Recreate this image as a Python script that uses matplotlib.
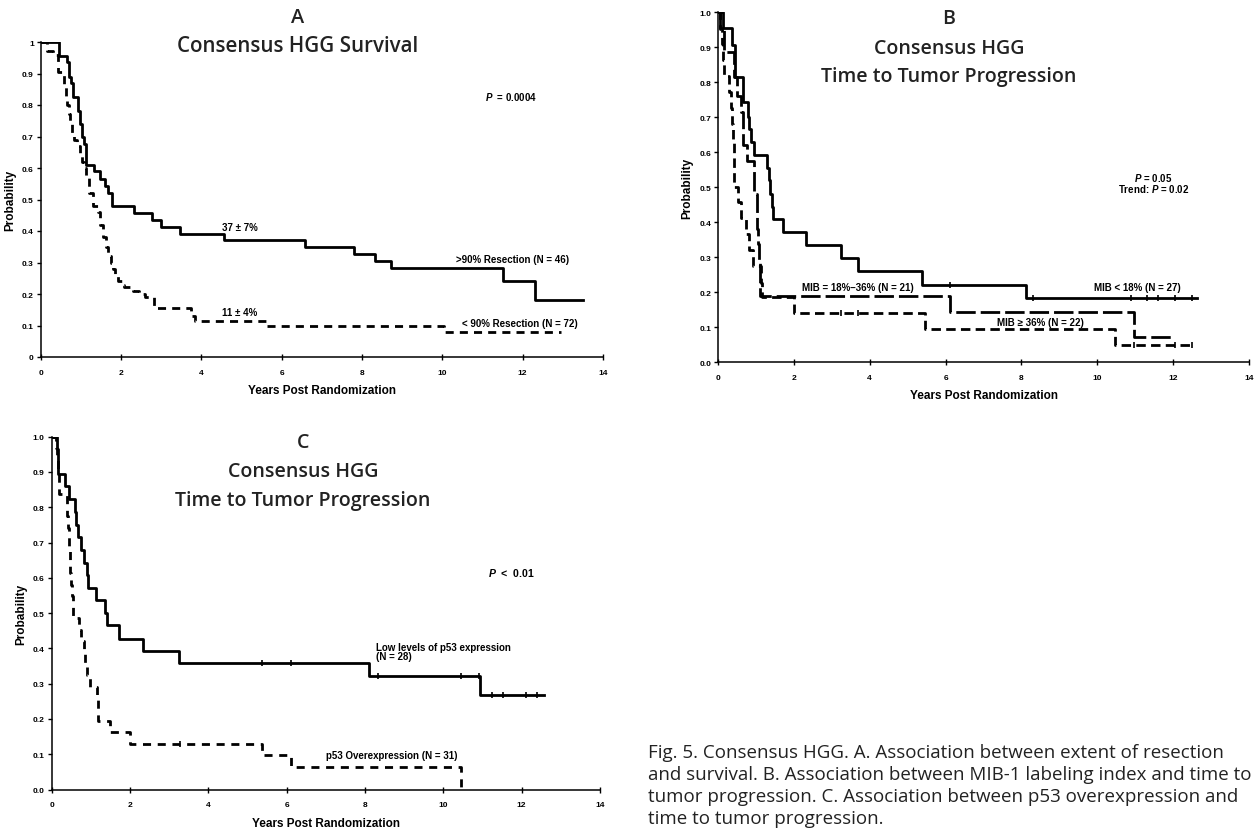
import numpy as np
import matplotlib.pyplot as plt

plt.rcParams['font.family'] = ['Liberation Sans', 'DejaVu Sans']
plt.rcParams['font.weight'] = 'bold'
plt.rcParams['axes.labelweight'] = 'bold'
plt.rcParams['mathtext.fontset'] = 'custom'
plt.rcParams['mathtext.it'] = 'Liberation Sans:italic:bold'
plt.rcParams['mathtext.rm'] = 'Liberation Sans:bold'

# Panel A: survival by extent of resection (last point = end of follow-up)
a_hi_t = [0, 0.46, 0.65, 0.70, 0.75, 0.80, 0.92, 0.98, 1.03, 1.08, 1.12, 1.33, 1.47, 1.60, 1.68,
          1.78, 2.32, 2.76, 3.00, 3.47, 4.56, 6.57, 7.79, 8.32, 8.71, 11.50, 12.30, 13.50]
a_hi_s = [1.0, 0.957, 0.935, 0.89, 0.87, 0.826, 0.78, 0.74, 0.70, 0.675, 0.61, 0.59, 0.565, 0.543, 0.52,
          0.478, 0.457, 0.435, 0.413, 0.39, 0.37, 0.348, 0.326, 0.304, 0.283, 0.24, 0.18, 0.18]
a_lo_t = [0, 0.15, 0.31, 0.44, 0.58, 0.62, 0.66, 0.70, 0.74, 0.78, 0.84, 0.90, 0.97, 1.03, 1.08, 1.14,
          1.20, 1.30, 1.42, 1.48, 1.55, 1.62, 1.68, 1.75, 1.80, 1.86, 1.93, 2.02, 2.07, 2.30, 2.45, 2.60,
          2.83, 3.75, 3.83, 5.62, 10.03, 12.96]
a_lo_s = [1.0, 0.972, 0.958, 0.906, 0.86, 0.83, 0.80, 0.77, 0.74, 0.71, 0.69, 0.67, 0.64, 0.62, 0.60,
          0.57, 0.52, 0.48, 0.46, 0.42, 0.38, 0.35, 0.32, 0.30, 0.28, 0.26, 0.24, 0.23, 0.221, 0.21, 0.20,
          0.19, 0.155, 0.13, 0.113, 0.098, 0.078, 0.078]

# Panel B: time to progression by MIB-1 labeling index
b_lo_t = [0, 0.14, 0.36, 0.45, 0.67, 0.78, 0.82, 0.88, 0.95, 1.30, 1.34, 1.38, 1.42, 1.46, 1.72, 2.31,
          3.25, 3.70, 5.37, 8.13, 12.63]
b_lo_s = [1.0, 0.955, 0.907, 0.815, 0.743, 0.70, 0.667, 0.63, 0.593, 0.555, 0.52, 0.48, 0.445, 0.409,
          0.373, 0.336, 0.299, 0.262, 0.222, 0.185, 0.185]
b_mid_t = [0, 0.06, 0.15, 0.41, 0.49, 0.60, 0.65, 0.77, 0.95, 1.02, 1.04, 1.06, 1.08, 1.10, 1.12,
           6.12, 10.96, 12.06]
b_mid_s = [1.0, 0.952, 0.888, 0.815, 0.762, 0.714, 0.622, 0.574, 0.48, 0.431, 0.38, 0.338, 0.286,
           0.233, 0.19, 0.143, 0.072, 0.072]
b_hi_t = [0, 0.05, 0.10, 0.14, 0.17, 0.30, 0.34, 0.37, 0.39, 0.41, 0.42, 0.53, 0.60, 0.75, 0.82,
          0.93, 1.13, 1.15, 2.00, 5.47, 10.47, 12.50]
b_hi_s = [1.0, 0.955, 0.909, 0.864, 0.818, 0.773, 0.727, 0.682, 0.636, 0.591, 0.50, 0.457, 0.411,
          0.367, 0.322, 0.276, 0.227, 0.186, 0.14, 0.095, 0.05, 0.05]

# Panel C: time to progression by p53 status
c_lo_t = [0, 0.13, 0.15, 0.17, 0.33, 0.43, 0.59, 0.62, 0.66, 0.75, 0.82, 0.91, 0.93, 1.12, 1.36,
          1.40, 1.73, 2.32, 3.26, 8.09, 10.93, 12.58]
c_lo_s = [1.0, 0.964, 0.929, 0.894, 0.859, 0.823, 0.786, 0.75, 0.716, 0.679, 0.643, 0.607, 0.57,
          0.537, 0.50, 0.466, 0.428, 0.393, 0.358, 0.322, 0.269, 0.269]
c_hi_t = [0, 0.11, 0.14, 0.17, 0.19, 0.38, 0.40, 0.42, 0.44, 0.46, 0.48, 0.50, 0.52, 0.54, 0.70,
          0.76, 0.82, 0.86, 0.91, 0.98, 1.15, 1.17, 1.49, 2.00, 5.38, 6.12, 10.46, 10.46]
c_hi_s = [1.0, 0.968, 0.935, 0.903, 0.839, 0.806, 0.774, 0.742, 0.677, 0.645, 0.613, 0.58, 0.548,
          0.485, 0.452, 0.42, 0.387, 0.356, 0.324, 0.29, 0.258, 0.194, 0.162, 0.129, 0.097, 0.065, 0.0, 0.0]

# censored observations (time, survival)
b_lo_cens = [(6.12, 0.222), (8.3, 0.185), (10.9, 0.185), (11.3, 0.185), (11.6, 0.185), (12.06, 0.185), (12.5, 0.185)]
b_hi_cens = [(3.25, 0.14), (3.7, 0.14), (10.96, 0.05), (12.06, 0.05), (12.5, 0.05)]
c_lo_cens = [(5.38, 0.358), (6.12, 0.358), (8.33, 0.322), (10.46, 0.322), (10.9, 0.322),
             (11.25, 0.269), (11.53, 0.269), (12.1, 0.269), (12.4, 0.269)]
c_hi_cens = [(3.27, 0.129)]

years = [0, 2, 4, 6, 8, 10, 12, 14]

bold = dict(fontsize=7, fontweight='bold', family=['Liberation Sans', 'DejaVu Sans'])


def setup(ax, yfmt):
    ax.set_xlim(0, 14)
    ax.set_ylim(0, 1)
    for s in ['top', 'right']:
        ax.spines[s].set_visible(False)
    for s in ['left', 'bottom']:
        ax.spines[s].set_linewidth(1.1)
    ax.set_xticks(years)
    ax.set_yticks(np.arange(0, 1.01, 0.1))
    ax.set_yticklabels([yfmt(v) for v in np.arange(0, 1.01, 0.1)])
    ax.tick_params(axis='x', direction='inout', length=5, width=1, labelsize=6, pad=6)
    ax.tick_params(axis='y', direction='out', length=3, width=1, labelsize=6, pad=2)
    for lab in ax.get_xticklabels() + ax.get_yticklabels():
        lab.set_fontweight('bold')
    ax.set_ylabel('Probability', fontsize=8.5, fontweight='bold')
    ax.set_xlabel('Years Post Randomization', fontsize=8.5, fontweight='bold', labelpad=6)


def km(ax, t, s, dashes=None):
    line, = ax.step(t, s, where='post', color='black', lw=2.0)
    if dashes:
        line.set_dashes(dashes)


def cens(ax, pts):
    ax.plot([p[0] for p in pts], [p[1] for p in pts], ls='none', marker='|',
            ms=4, mew=1.2, color='black')


fig = plt.figure(figsize=(12.59, 8.29), dpi=100)
W, H = 1259, 829

def box(x0, x1, y1, y0):
    return [x0 / W, (H - y0) / H, (x1 - x0) / W, (y0 - y1) / H]

axA = fig.add_axes(box(40.7, 603, 43, 358))
axB = fig.add_axes(box(718, 1249, 13.3, 363.3))
axC = fig.add_axes(box(51.7, 600, 437.7, 790.5))

fmtA = lambda v: '0' if v < 0.01 else ('1' if v > 0.99 else f'{v:.1f}')
fmtBC = lambda v: f'{v:.1f}'

setup(axA, fmtA)
km(axA, a_hi_t, a_hi_s)
km(axA, a_lo_t, a_lo_s, (2.9, 2.2))
axA.text(11.7, 0.83, r'$P$  = 0.0004', ha='center', va='center', **bold)
axA.text(4.51, 0.413, '37 \u00b1 7%', ha='left', va='center', **bold)
axA.text(4.51, 0.143, '11 \u00b1 4%', ha='left', va='center', **bold)
axA.text(11.76, 0.311, '>90% Resection (N = 46)', ha='center', va='center', **bold)
axA.text(11.92, 0.108, '< 90% Resection (N = 72)', ha='center', va='center', **bold)

setup(axB, fmtBC)
km(axB, b_lo_t, b_lo_s)
km(axB, b_mid_t, b_mid_s, (7.0, 1.8))
km(axB, b_hi_t, b_hi_s, (3.4, 1.9))
cens(axB, b_lo_cens)
cens(axB, b_hi_cens)
axB.text(11.48, 0.529, r'$P$ = 0.05', ha='center', va='center', **bold)
axB.text(11.48, 0.498, r'Trend: $P$ = 0.02', ha='center', va='center', **bold)
axB.text(3.68, 0.215, 'MIB = 18%–36% (N = 21)', ha='center', va='center', **bold)
axB.text(11.05, 0.215, 'MIB < 18% (N = 27)', ha='center', va='center', **bold)
axB.text(8.5, 0.116, 'MIB \u2265 36% (N = 22)', ha='center', va='center', **bold)

setup(axC, fmtBC)
km(axC, c_lo_t, c_lo_s)
km(axC, c_hi_t, c_hi_s, (2.9, 2.4))
cens(axC, c_lo_cens)
cens(axC, c_hi_cens)
axC.text(11.74, 0.616, r'$P$  <  0.01', ha='center', va='center',
         **dict(bold, fontsize=7.6))
axC.text(8.27, 0.391, 'Low levels of p53 expression\n(N = 28)', ha='left', va='center',
         linespacing=0.9, **bold)
axC.text(7.0, 0.099, 'p53 Overexpression (N = 31)', ha='left', va='center', **bold)

# panel titles
tf = dict(family=['Open Sans', 'DejaVu Sans'], fontweight='semibold', color='#222222',
          ha='center', va='center')
fig.text(298 / W, 1 - 18 / H, 'A', fontsize=14.3, **tf)
fig.text(298 / W, 1 - 47 / H, 'Consensus HGG Survival', fontsize=14.8, **tf)
fig.text(949 / W, 1 - 19.5 / H, 'B', fontsize=14.1, **tf)
fig.text(949 / W, 1 - 48.5 / H, 'Consensus HGG', fontsize=14.1, **tf)
fig.text(949 / W, 1 - 77 / H, 'Time to Tumor Progression', fontsize=14.1, **tf)
fig.text(303 / W, 1 - 443 / H, 'C', fontsize=14.1, **tf)
fig.text(303 / W, 1 - 472.5 / H, 'Consensus HGG', fontsize=14.1, **tf)
fig.text(303 / W, 1 - 501 / H, 'Time to Tumor Progression', fontsize=14.1, **tf)

caption = ['Fig. 5. Consensus HGG. A. Association between extent of resection',
           'and survival. B. Association between MIB-1 labeling index and time to',
           'tumor progression. C. Association between p53 overexpression and',
           'time to tumor progression.']
for i, line in enumerate(caption):
    fig.text(648 / W, 1 - (753 + 22 * i) / H, line, fontsize=13.5, family=['Open Sans', 'DejaVu Sans'],
             fontweight='normal', color='#222222', ha='left', va='center')

plt.savefig('out.png', dpi=100)
